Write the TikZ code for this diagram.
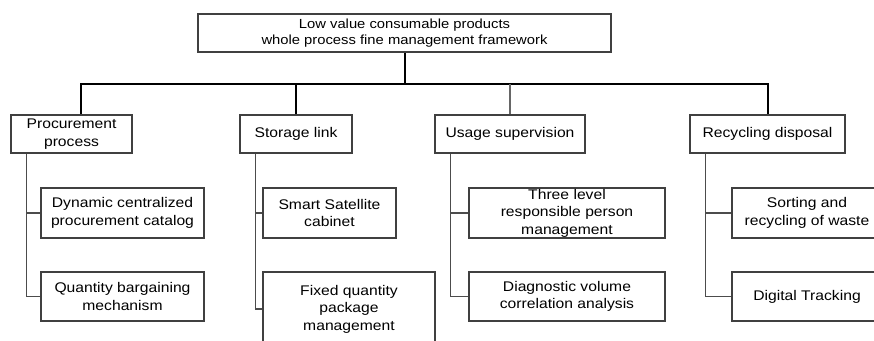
\documentclass[tikz,border=0pt]{standalone}
\usepackage{fontspec}
\setmainfont{Liberation Sans}[FakeStretch=1.12]
\begin{document}
\begin{tikzpicture}[x=1pt,y=-1pt,
  box/.style={draw=black!75,line width=1.5pt,fill=white,align=center,inner sep=0pt,
    font=\fontsize{14}{17.5}\selectfont},
  topbox/.style={box,font=\fontsize{13.2}{16}\selectfont},
  mainline/.style={draw=black,line width=2pt},
  subline/.style={draw=black!70,line width=1.5pt}]
\useasboundingbox (0,0) rectangle (874,340);
\clip (0,0) rectangle (874,340);
\fill[white] (0,0) rectangle (874,340);
% top
\node[topbox,minimum width=413pt,minimum height=38pt] (top) at (404.5,33) {Low value consumable products\\whole process fine management framework};
% level 1
\node[box,minimum width=121pt,minimum height=38pt] (p) at (71.5,134) {Procurement\\process};
\node[box,minimum width=112pt,minimum height=38pt] (s) at (296,134) {Storage link};
\node[box,minimum width=150pt,minimum height=38pt] (u) at (510,134) {Usage supervision};
\node[box,minimum width=155pt,minimum height=38pt] (r) at (767.5,134) {Recycling disposal};
% children
\node[box,minimum width=163pt,minimum height=50pt] (p1) at (122.5,213) {Dynamic centralized\\procurement catalog};
\node[box,minimum width=163pt,minimum height=49pt] (p2) at (122.5,296.5) {Quantity bargaining\\mechanism};
\node[box,minimum width=133pt,minimum height=50pt] (s1) at (329.5,213) {Smart Satellite\\cabinet};
\node[box,minimum width=172pt,minimum height=74pt] (s2) at (349,309) {Fixed quantity\\package\\management};
\node[box,minimum width=196pt,minimum height=50pt] (u1) at (567,213) {Three level\\responsible person\\management};
\node[box,minimum width=196pt,minimum height=49pt] (u2) at (567,296.5) {Diagnostic volume\\correlation analysis};
\node[box,minimum width=150pt,minimum height=50pt] (r1) at (807,213) {Sorting and\\recycling of waste};
\node[box,minimum width=150pt,minimum height=49pt] (r2) at (807,296.5) {Digital Tracking};
% main tree
\draw[mainline] (top.south) -- ++(0,31) coordinate (j);
\draw[mainline] ([xshift=9.5pt]p.north) -- ([xshift=9.5pt]p.north |- j) -| (r.north);
\draw[mainline] (s.north) -- (s.north |- j);
\draw[mainline,draw=black!60] (u.north) -- (u.north |- j);
% sub connectors
\foreach \a/\b in {p/p1,p/p2,s/s1,s/s2,u/u1,u/u2,r/r1,r/r2}{
  \draw[subline] ([xshift=16pt]\a.south west) |- (\b.west);
}
\end{tikzpicture}
\end{document}
